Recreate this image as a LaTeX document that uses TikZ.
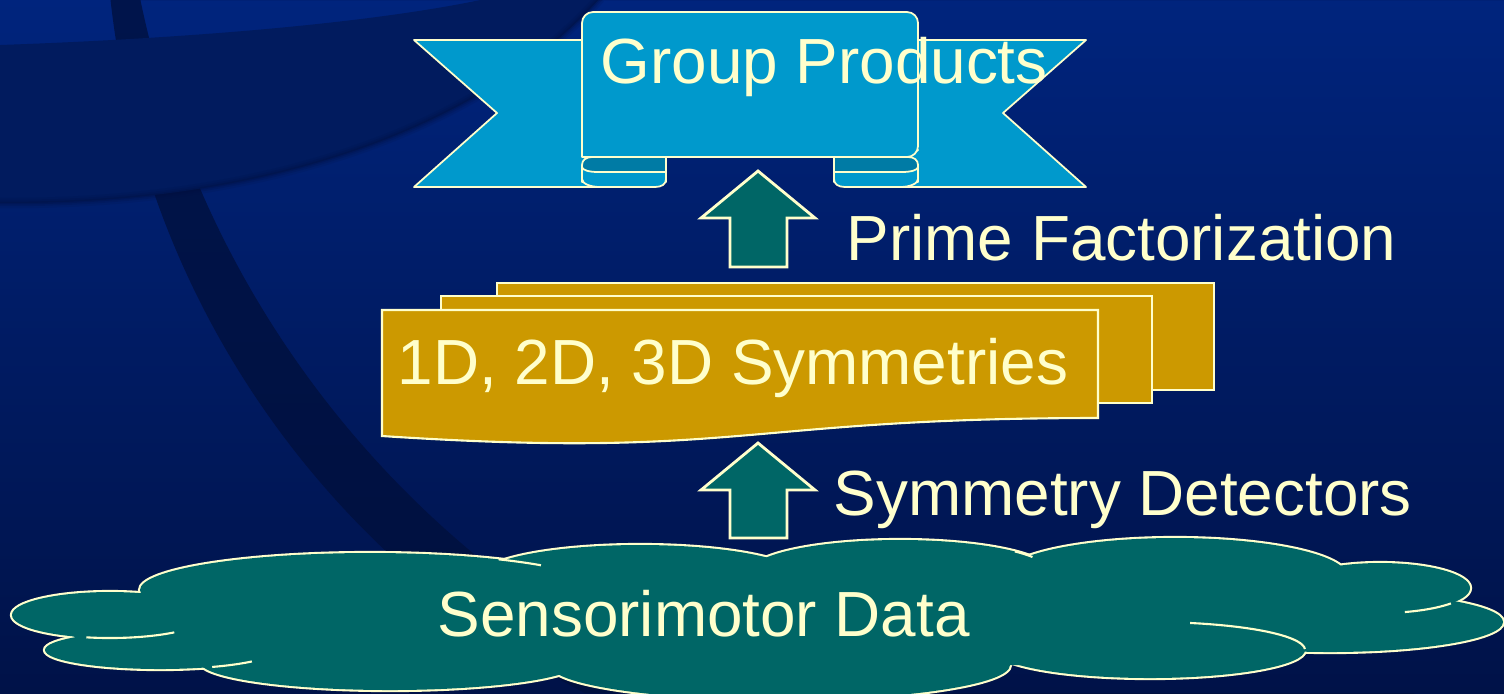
\documentclass[tikz,border=0pt]{standalone}
\usepackage{fontspec}
\setmainfont{Liberation Sans}

\definecolor{bgtop}{HTML}{00247D}
\definecolor{bgmid}{HTML}{00206F}
\definecolor{bgbot}{HTML}{001248}
\definecolor{bandtop}{HTML}{001C62}
\definecolor{bandmid}{HTML}{001A5A}
\definecolor{bandbot}{HTML}{000F3C}
\definecolor{flatband}{HTML}{011B5E}
\definecolor{bandedge}{HTML}{00103F}
\definecolor{cream}{HTML}{FFFFCC}
\definecolor{ribbonblue}{HTML}{0099CC}
\definecolor{ribbondark}{HTML}{007BA5}
\definecolor{arrowteal}{HTML}{006666}
\definecolor{sheetgold}{HTML}{CC9900}

\tikzset{
  creamline/.style={draw=cream, line width=0.5pt, line join=round},
  ribbonpart/.style={creamline, fill=ribbonblue},
  foldpart/.style={creamline, fill=ribbondark},
  blockarrow/.style={draw=cream, line width=0.8pt, fill=arrowteal, line join=miter},
  sheet/.style={draw=cream, line width=0.6pt, fill=sheetgold},
  lobe/.style={draw=cream, line width=1.2pt, fill=arrowteal},
  lobefill/.style={fill=arrowteal},
  lobetail/.style={draw=cream, line width=0.6pt},
  cremetext/.style={text=cream, font=\fontsize{18.15pt}{21pt}\selectfont,
                    inner sep=0pt, anchor=base west},
}

\begin{document}
\begin{tikzpicture}[x=0.01cm, y=-0.01cm]
\useasboundingbox (0,0) rectangle (1504,693);
\clip (0,0) rectangle (1504,693);

% ---- background -------------------------------------------------------
\shade[top color=bgtop, middle color=bgmid, bottom color=bgbot]
  (0,0) rectangle (1504,693);

% large curved band sweeping down from the top left
\begin{scope}
  \clip (1000,-100) circle [radius=895];
  \shade[even odd rule, top color=bandtop, middle color=bandmid, bottom color=bandbot]
    (0,0) rectangle (1504,693) (1100,-200) circle [radius=980];
\end{scope}

% flat band across the upper left corner, with a soft shadow on its lower rim
\fill[flatband] (0,45) .. controls (200,38) and (380,22) .. (490,-2)
  -- (600,-2) .. controls (500,110) and (300,205) .. (0,203) -- cycle;
\foreach \w/\o in {3pt/0.12, 1.8pt/0.18, 0.8pt/0.25}
  \draw[bandedge, line width=\w, opacity=\o]
    (600,-2) .. controls (500,110) and (300,205) .. (0,203);

% ---- ribbon banner ------------------------------------------------------
\path[ribbonpart] (414,40) -- (598,40) -- (598,187) -- (414,187) -- (497,113) -- cycle;
\path[ribbonpart] (1086,40) -- (902,40) -- (902,187) -- (1086,187) -- (1003,113) -- cycle;
\path[foldpart] (582,150) -- (666,150) -- (666,182) -- (582,182)
  -- (582,165) .. controls (582,160) and (586,157) .. (592,157) -- cycle;
\path[foldpart] (918,150) -- (834,150) -- (834,182) -- (918,182)
  -- (918,165) .. controls (918,160) and (914,157) .. (908,157) -- cycle;
\path[ribbonpart, rounded corners=1.1mm]
  (582,157) -- (582,12) -- (918,12) -- (918,157) [sharp corners] -- cycle;
\path[ribbonpart] (666,172) -- (598,172)
  .. controls (589,172) and (582,170) .. (582,167)
  -- (582,179) .. controls (582,183.5) and (590,187) .. (600,187)
  -- (655,187) .. controls (662,187) and (666,184) .. (666,179) -- cycle;
\path[ribbonpart] (834,172) -- (902,172)
  .. controls (911,172) and (918,170) .. (918,167)
  -- (918,179) .. controls (918,183.5) and (910,187) .. (900,187)
  -- (845,187) .. controls (838,187) and (834,184) .. (834,179) -- cycle;

% ---- block arrows -------------------------------------------------------
\path[blockarrow] (758,171) -- (815,218) -- (787,218) -- (787,267)
  -- (730,267) -- (730,218) -- (701,218) -- cycle;
\path[blockarrow] (758,443) -- (815,490) -- (787,490) -- (787,538)
  -- (730,538) -- (730,490) -- (701,490) -- cycle;

% ---- stacked documents --------------------------------------------------
\path[sheet] (497,283) rectangle (1214,390);
\path[sheet] (441,296) rectangle (1152,403);
\path[sheet] (382,310) -- (1098,310) -- (1098,418)
  .. controls (740,418) and (740,459.5) .. (382,436) -- cycle;

% ---- cloud --------------------------------------------------------------
\foreach \cx/\cy/\rx/\ry in {110/615/98/23, 160/650/115/19, 390/662/190/28,
    780/665/230/35, 1150/650/155/28, 1330/622/173/30, 1380/588/90/25,
    1175/576/172/38, 900/572/150/32, 640/577/160/32, 370/590/230/37}
  \path[lobe] (\cx,\cy) ellipse [x radius=\rx, y radius=\ry];
\foreach \cx/\cy/\rx/\ry in {110/615/98/23, 160/650/115/19, 390/662/190/28,
    780/665/230/35, 1150/650/155/28, 1330/622/173/30, 1380/588/90/25,
    1175/576/172/38, 900/572/150/32, 640/577/160/32, 370/590/230/37}
  \path[lobefill] (\cx,\cy) ellipse [x radius=\rx, y radius=\ry];
\path[lobefill] (40,625) -- (150,605) -- (200,575) -- (1330,578) -- (1440,600)
  -- (1460,622) -- (1300,640) -- (1150,665) -- (1000,665) -- (780,685)
  -- (560,672) -- (390,682) -- (220,665) -- (90,642) -- cycle;
% inner ends of the lobe outlines
\draw[lobetail] plot[domain=49:104, variable=\t, samples=20] ({110+98*cos(\t)}, {615+23*sin(\t)});
\draw[lobetail] plot[domain=37:63, variable=\t, samples=12] ({160+115*cos(\t)}, {650+19*sin(\t)});
\draw[lobetail] plot[domain=-56:-42, variable=\t, samples=8] ({370+230*cos(\t)}, {590+37*sin(\t)});
\draw[lobetail] plot[domain=-40:-28, variable=\t, samples=8] ({900+150*cos(\t)}, {572+32*sin(\t)});
\draw[lobetail] plot[domain=38:74, variable=\t, samples=12] ({1380+90*cos(\t)}, {588+25*sin(\t)});
\draw[lobetail] plot[domain=-75:-2, variable=\t, samples=20] ({1150+155*cos(\t)}, {650+28*sin(\t)});

% ---- labels -------------------------------------------------------------
\node[cremetext] (gp) at (600,83)  {Group Products};
\node[cremetext] (pf) at (846,260) {Prime Factorization};
\node[cremetext] (sy) at (397,384) {1D, 2D, 3D Symmetries};
\node[cremetext] (sd) at (833,515) {Symmetry Detectors};
\node[cremetext] (sm) at (437,636) {Sensorimotor Data};
\end{tikzpicture}
\end{document}
